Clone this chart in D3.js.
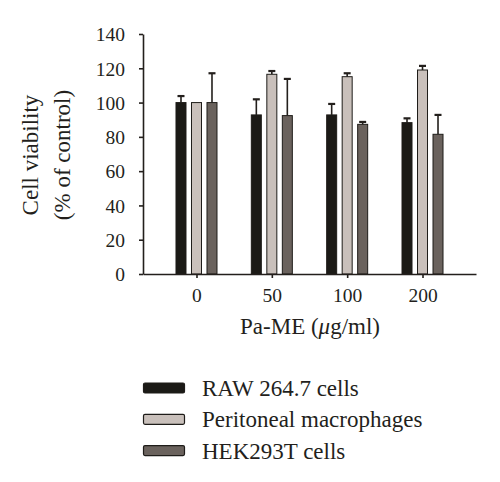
<!DOCTYPE html>
<html>
<head>
<meta charset="utf-8">
<script src="https://cdn.jsdelivr.net/npm/d3@7"></script>
<style>
  body { margin: 0; background: #fff; }
  text { font-family: "Liberation Serif", "Times New Roman", serif; fill: #231f1c; }
</style>
</head>
<body>
<svg id="drawing_region"></svg>
<script>
// data
const doses = ['0', '50', '100', '200'];
const series = ['RAW 264.7 cells', 'Peritoneal macrophages', 'HEK293T cells'];
const raw_mean = [100, 92.8, 92.8, 88.3];
const raw_err = [3.8, 9.1, 6.4, 2.5];
const peri_mean = [100, 116.5, 115.1, 119.0];
const peri_err = [0, 1.9, 2.0, 2.4];
const hek_mean = [100, 92.4, 87.3, 81.5];
const hek_err = [17.1, 21.4, 1.4, 11.3];
const yticks = [0, 20, 40, 60, 80, 100, 120, 140];

const colors = ['#1b1a16', '#c9c0bb', '#6a625d'];

const config = {
    parent: '#drawing_region',
    width: 500,
    height: 482,
    margin: {top: 34, right: 24, bottom: 208, left: 143}
};

const svg = d3.select(config.parent)
    .attr('width', config.width)
    .attr('height', config.height);

const inner_width = config.width - config.margin.left - config.margin.right;
const inner_height = config.height - config.margin.top - config.margin.bottom;

const chart = svg.append('g')
    .attr('transform', `translate(${config.margin.left}, ${config.margin.top})`);

const xscale = d3.scalePoint()
    .domain(doses)
    .range([0, inner_width])
    .padding(0.71);

const yscale = d3.scaleLinear()
    .domain([0, 140])
    .range([inner_height, 0]);

const offset = d3.scalePoint()
    .domain(series)
    .range([-15.5, 15.5]);

const bar_w = 10;

// build rows from the arrays
const means = [raw_mean, peri_mean, hek_mean];
const errs = [raw_err, peri_err, hek_err];
const rows = [];
series.forEach((s, i) => {
    doses.forEach((d, j) => {
        rows.push({dose: d, series: s, idx: i, mean: means[i][j], err: errs[i][j]});
    });
});

// error bars (upward only)
const eb = chart.append('g').attr('stroke', '#231f1c').attr('stroke-width', 1.6);
eb.selectAll('line.v')
    .data(rows.filter(d => d.err > 0))
    .join('line')
    .attr('x1', d => xscale(d.dose) + offset(d.series))
    .attr('x2', d => xscale(d.dose) + offset(d.series))
    .attr('y1', d => yscale(d.mean))
    .attr('y2', d => yscale(d.mean + d.err));
eb.selectAll('line.c')
    .data(rows.filter(d => d.err > 0))
    .join('line')
    .attr('x1', d => xscale(d.dose) + offset(d.series) - 3.5)
    .attr('x2', d => xscale(d.dose) + offset(d.series) + 3.5)
    .attr('y1', d => yscale(d.mean + d.err))
    .attr('y2', d => yscale(d.mean + d.err))
    .attr('stroke-width', 2.2);

chart.append('g').selectAll('rect')
    .data(rows)
    .join('rect')
    .attr('x', d => xscale(d.dose) + offset(d.series) - bar_w / 2)
    .attr('y', d => yscale(d.mean))
    .attr('width', bar_w)
    .attr('height', d => yscale(0) - yscale(d.mean))
    .attr('fill', d => colors[d.idx])
    .attr('stroke', '#1e1c19')
    .attr('stroke-width', 1);

// axes
const yaxis = d3.axisLeft(yscale)
    .tickValues(yticks)
    .tickSize(4)
    .tickPadding(14)
    .tickSizeOuter(0);

const xaxis = d3.axisBottom(xscale)
    .tickSize(4)
    .tickPadding(10)
    .tickSizeOuter(0);

const yaxis_group = chart.append('g').call(yaxis);
const xaxis_group = chart.append('g')
    .attr('transform', `translate(0, ${inner_height})`)
    .call(xaxis);

[yaxis_group, xaxis_group].forEach(g => {
    g.selectAll('path, line').attr('stroke', '#231f1c').attr('stroke-width', 1.6);
    g.selectAll('text')
        .attr('font-family', '"Liberation Serif", serif')
        .attr('font-size', 19.5)
        .attr('fill', '#231f1c');
});
yaxis_group.selectAll('text').attr('dy', '0.35em');

// y label
const ylab = svg.append('text')
    .attr('transform', 'translate(0,155) rotate(-90)')
    .attr('text-anchor', 'middle')
    .attr('font-size', 23);
ylab.append('tspan').attr('x', 0).attr('y', 38).text('Cell viability');
ylab.append('tspan').attr('x', 0).attr('y', 70).text('(% of control)');

// x label
const xlab = svg.append('text')
    .attr('x', 310)
    .attr('y', 334)
    .attr('text-anchor', 'middle')
    .attr('font-size', 23);
xlab.append('tspan').text('Pa-ME (');
xlab.append('tspan').attr('font-style', 'italic').text('μ');
xlab.append('tspan').text('g/ml)');

// legend
const legend = svg.append('g').attr('transform', 'translate(143, 388)');
const item = legend.selectAll('g')
    .data(series)
    .join('g')
    .attr('transform', (d, i) => `translate(0, ${i * 31.3})`);
item.append('rect')
    .attr('x', 0.5)
    .attr('y', -5)
    .attr('width', 41)
    .attr('height', 10)
    .attr('rx', 1.5)
    .attr('fill', (d, i) => colors[i])
    .attr('stroke', '#1e1c19')
    .attr('stroke-width', 1.2);
item.append('text')
    .attr('x', 59)
    .attr('y', 0)
    .attr('dy', '0.35em')
    .attr('font-size', 23)
    .text(d => d);
</script>
</body>
</html>
